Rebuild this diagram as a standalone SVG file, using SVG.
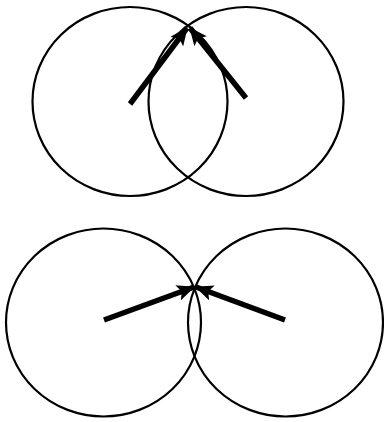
<svg xmlns="http://www.w3.org/2000/svg" width="384" height="422" viewBox="0 0 384 422">
<style>
.c{fill:none;stroke:#000;stroke-width:2.2}
.a{stroke:#000;stroke-width:5.5;fill:none;marker-end:url(#ah)}
</style>
<defs>
<marker id="ah" markerUnits="userSpaceOnUse" markerWidth="18" markerHeight="16" refX="17" refY="8" orient="auto" viewBox="0 0 18 16">
<path d="M0,0 L18,8 L0,16 L4,8 Z" fill="#000"/>
</marker>
</defs>
<rect width="384" height="422" fill="#fff"/>
<g id="top-left"><ellipse class="c" cx="130" cy="101.5" rx="97.5" ry="94.5"/></g>
<g id="top-right"><ellipse class="c" cx="246" cy="101.5" rx="97.5" ry="94.5"/></g>
<g id="bottom-left"><ellipse class="c" cx="103.5" cy="322.5" rx="97.5" ry="94"/></g>
<g id="bottom-right"><ellipse class="c" cx="285.5" cy="322.5" rx="97.5" ry="94"/></g>
<g id="connectors">
<line class="a" x1="130" y1="104" x2="187" y2="28"/>
<line class="a" x1="246" y1="98" x2="190" y2="28"/>
<line class="a" x1="104" y1="320" x2="194" y2="287"/>
<line class="a" x1="285" y1="320" x2="196" y2="287"/>
</g>
</svg>
